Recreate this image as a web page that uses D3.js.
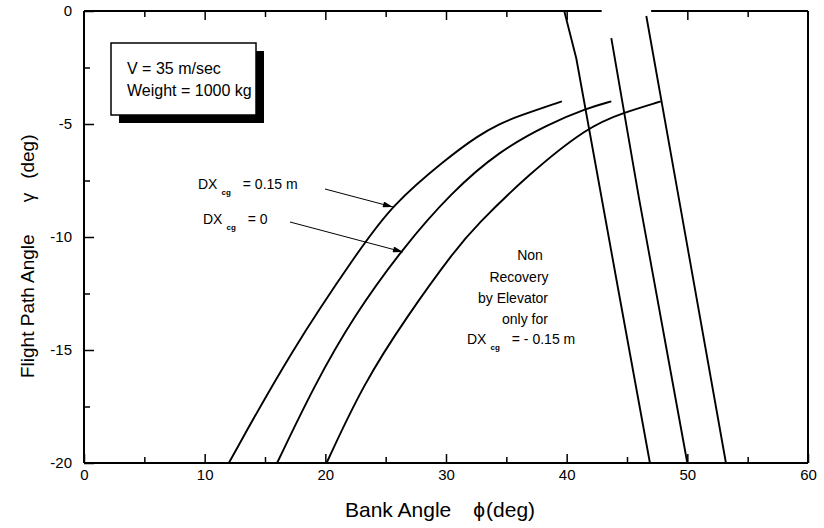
<!DOCTYPE html>
<html>
<head>
<meta charset="utf-8">
<script src="https://cdn.jsdelivr.net/npm/d3@7/dist/d3.min.js"></script>
<style>
  html, body { margin: 0; padding: 0; background: #fff; }
  svg { display: block; font-family: "Liberation Sans", Arial, sans-serif; }
</style>
</head>
<body>
<svg id="chart" width="824" height="528"></svg>
<script>
// Bank angle (deg) vs flight path angle (deg) boundaries
const phiPos015 = [12.0, 17.2, 22.8, 25.5, 30.0, 32.7, 34.4, 36.0, 39.6];
const gamPos015 = [-20, -15.0, -10.58, -8.6, -6.55, -5.5, -5.0, -4.65, -4.0];

const phiZero = [16.0, 19.15, 22.32, 26.4, 30.5, 34.4, 38.5, 41.7, 43.7];
const gamZero = [-20, -16.5, -13.53, -10.5, -8.0, -6.2, -5.0, -4.3, -4.0];

const phiNeg015 = [20.1, 23.15, 26.74, 30.74, 32.5, 36.7, 41.8, 44.7, 47.8];
const gamNeg015 = [-20, -16.5, -13.53, -10.58, -9.5, -7.29, -5.1, -4.5, -4.0];

// Steep elevator-limit lines
const phiLineA = [39.8, 40.8, 44.3, 46.9];
const gamLineA = [0, -2.1, -12.4, -20];
const phiLineB = [43.7, 46.0, 50.0];
const gamLineB = [-1.2, -8.3, -20];
const phiLineC = [46.6, 49.3, 53.2];
const gamLineC = [-0.22, -8.3, -20];

const xTicks = [0, 10, 20, 30, 40, 50, 60];
const xMinor = [5, 15, 25, 35, 45, 55];
const yTicks = [0, -5, -10, -15, -20];
const yMinor = [-2.5, -7.5, -12.5, -17.5];

const svg = d3.select("#chart");
const x = d3.scaleLinear().domain([0, 60]).range([84, 808]);
const y = d3.scaleLinear().domain([-20, 0]).range([463, 11]);
const plain = d => String(d);

const defs = svg.append("defs");
defs.append("marker")
  .attr("id", "arrow")
  .attr("viewBox", "0 0 10 6")
  .attr("refX", 10).attr("refY", 3)
  .attr("markerWidth", 12).attr("markerHeight", 6)
  .attr("markerUnits", "userSpaceOnUse")
  .attr("orient", "auto")
  .append("path").attr("d", "M0,0 L10,3 L0,6 Z").attr("fill", "#000");

// Frame: left, bottom, right, top (top is broken near 43-47 deg)
const frame = svg.append("g").attr("stroke", "#000").attr("stroke-width", 2).attr("fill", "none");
frame.append("line").attr("x1", x(0)).attr("x2", x(0)).attr("y1", y(0)).attr("y2", y(-20));
frame.append("line").attr("x1", x(0)).attr("x2", x(60)).attr("y1", y(-20)).attr("y2", y(-20));
frame.append("line").attr("x1", x(60)).attr("x2", x(60)).attr("y1", y(0)).attr("y2", y(-20));
frame.append("line").attr("x1", x(0)).attr("x2", x(42.9)).attr("y1", y(0)).attr("y2", y(0));
frame.append("line").attr("x1", x(47.0)).attr("x2", x(60)).attr("y1", y(0)).attr("y2", y(0));

// Axes with inward ticks
const xBottom = d3.axisBottom(x).tickValues(xTicks).tickSize(-9).tickPadding(6).tickFormat(plain);
const gx = svg.append("g").attr("transform", `translate(0,${y(-20)})`).call(xBottom);
gx.select(".domain").remove();
gx.selectAll(".tick line").attr("stroke-width", 1.5);
gx.selectAll(".tick text").attr("font-size", 15).attr("fill", "#000");
svg.append("g").attr("transform", `translate(0,${y(-20)})`)
  .call(d3.axisBottom(x).tickValues(xMinor).tickSize(-6).tickFormat(""))
  .call(g => g.select(".domain").remove())
  .selectAll(".tick line").attr("stroke-width", 1.5);

// Top ticks (outside the gap)
const topMajor = xTicks.filter(d => d > 0 && d < 60);
svg.append("g").attr("transform", `translate(0,${y(0)})`)
  .call(d3.axisTop(x).tickValues(topMajor).tickSize(-9).tickFormat(""))
  .call(g => g.select(".domain").remove())
  .selectAll(".tick line").attr("stroke-width", 1.5);
svg.append("g").attr("transform", `translate(0,${y(0)})`)
  .call(d3.axisTop(x).tickValues(xMinor.filter(d => d !== 45)).tickSize(-6).tickFormat(""))
  .call(g => g.select(".domain").remove())
  .selectAll(".tick line").attr("stroke-width", 1.5);

const yLeft = d3.axisLeft(y).tickValues(yTicks).tickSize(-10).tickPadding(12).tickFormat(plain);
const gy = svg.append("g").attr("transform", `translate(${x(0)},0)`).call(yLeft);
gy.select(".domain").remove();
gy.selectAll(".tick line").attr("stroke-width", 1.5);
gy.selectAll(".tick text").attr("font-size", 15).attr("fill", "#000");
svg.append("g").attr("transform", `translate(${x(0)},0)`)
  .call(d3.axisLeft(y).tickValues(yMinor).tickSize(-6).tickFormat(""))
  .call(g => g.select(".domain").remove())
  .selectAll(".tick line").attr("stroke-width", 1.5);

// Curves
const line = d3.line().x(d => x(d[0])).y(d => y(d[1]));
const smooth = d3.line().x(d => x(d[0])).y(d => y(d[1])).curve(d3.curveBasis);
const curves = [
  [phiPos015, gamPos015],
  [phiZero, gamZero],
  [phiNeg015, gamNeg015]
];
curves.forEach(([p, g]) => {
  svg.append("path").datum(p.map((v, i) => [v, g[i]]))
    .attr("d", smooth).attr("fill", "none").attr("stroke", "#000").attr("stroke-width", 1.9);
});
[[phiLineA, gamLineA], [phiLineB, gamLineB], [phiLineC, gamLineC]].forEach(([p, g]) => {
  svg.append("path").datum(p.map((v, i) => [v, g[i]]))
    .attr("d", line).attr("fill", "none").attr("stroke", "#000").attr("stroke-width", 1.9);
});

// Condition box with drop shadow
svg.append("rect").attr("x", 119).attr("y", 51).attr("width", 145).attr("height", 72).attr("fill", "#000");
svg.append("rect").attr("x", 111).attr("y", 43).attr("width", 145).attr("height", 72)
  .attr("fill", "#fff").attr("stroke", "#000").attr("stroke-width", 1.5);
svg.append("text").attr("x", 127).attr("y", 74).attr("font-size", 16).text("V = 35 m/sec");
svg.append("text").attr("x", 127).attr("y", 96).attr("font-size", 16).text("Weight = 1000 kg");

// DX_cg labels
function dxLabel(xp, yp, rest, size) {
  const t = svg.append("text").attr("x", xp).attr("y", yp).attr("font-size", size);
  t.append("tspan").text("DX");
  t.append("tspan").attr("font-size", 8).attr("font-weight", "bold").attr("dx", 4).attr("dy", 6).text("cg");
  t.append("tspan").attr("dy", -6).attr("dx", 12).text(rest);
  return t;
}
dxLabel(198, 189, "=  0.15 m", 14);
dxLabel(203, 224, "=  0", 14);

svg.append("line").attr("x1", 325).attr("y1", 189).attr("x2", 393).attr("y2", 207)
  .attr("stroke", "#000").attr("stroke-width", 1).attr("marker-end", "url(#arrow)");
svg.append("line").attr("x1", 290).attr("y1", 222).attr("x2", 403).attr("y2", 252)
  .attr("stroke", "#000").attr("stroke-width", 1).attr("marker-end", "url(#arrow)");

// Non-recovery region note
const note = [["Non", 530, 260], ["Recovery", 519, 282], ["by Elevator", 513, 303], ["only for", 525, 324]];
note.forEach(([s, cx, by]) => {
  svg.append("text").attr("x", cx).attr("y", by).attr("text-anchor", "middle").attr("font-size", 14).text(s);
});
dxLabel(467, 344, "= - 0.15 m", 14);

// Axis titles
const xt = svg.append("text").attr("x", 345).attr("y", 517).attr("font-size", 21);
xt.append("tspan").text("Bank Angle");
xt.append("tspan").attr("dx", 22).text("\u03d5");
xt.append("tspan").attr("dx", 1).text("(deg)");

const yt = svg.append("text").attr("transform", "translate(34,378) rotate(-90)").attr("font-size", 19);
yt.append("tspan").text("Flight Path Angle");
yt.append("tspan").attr("dx", 32).text("\u03b3");
yt.append("tspan").attr("dx", 14).text("(deg)");
</script>
</body>
</html>
